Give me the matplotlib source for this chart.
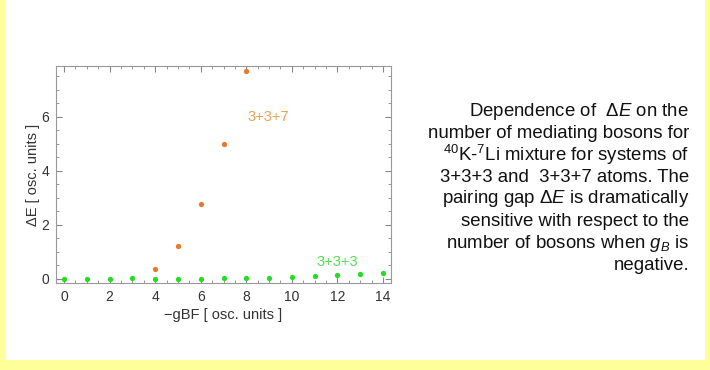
import matplotlib
matplotlib.use("Agg")
import matplotlib.pyplot as plt
from matplotlib.patches import Rectangle
from matplotlib.ticker import MultipleLocator

plt.rcParams['font.family'] = ['Liberation Sans', 'DejaVu Sans']
plt.rcParams['mathtext.fontset'] = 'custom'
plt.rcParams['mathtext.rm'] = 'Liberation Sans'
plt.rcParams['mathtext.it'] = 'Liberation Sans:italic'
plt.rcParams['mathtext.bf'] = 'Liberation Sans:bold'

# Pairing gap vs. boson-fermion coupling
g_333 = list(range(0, 15))
dE_333 = [0.0, 0.0, 0.0, 0.02, 0.0, 0.0, 0.0, 0.01, 0.02, 0.04, 0.07, 0.1, 0.13, 0.16, 0.2]
g_337 = [4, 5, 6, 7, 8]
dE_337 = [0.37, 1.2, 2.77, 4.98, 7.7]

x_ticks = [0, 2, 4, 6, 8, 10, 12, 14]
y_ticks = [0, 2, 4, 6]

caption = [
    "Dependence of  $\\mathit{\u0394E}$ on the",
    "number of mediating bosons for",
    "$^{40}$K-$^{7}$Li mixture for systems of",
    "3+3+3 and  3+3+7 atoms. The",
    "pairing gap $\\mathit{\u0394E}$ is dramatically",
    "sensitive with respect to the",
    "number of bosons when $g_B$ is",
    "negative.",
]

fig = plt.figure(figsize=(7.1, 3.7), dpi=100)
fig.patch.set_facecolor('#FFFF99')
fig.add_artist(Rectangle((5 / 710, 10 / 370), 700 / 710, 360 / 370,
                         transform=fig.transFigure, facecolor='white',
                         edgecolor='none', zorder=0))

ax = fig.add_axes([56 / 710, 87 / 370, 335 / 710, 217 / 370])
ax.set_facecolor('white')
ax.plot(g_333, dE_333, 'o', color='#22DD22', markersize=3.8, markeredgewidth=0)
ax.plot(g_337, dE_337, 'o', color='#E8782A', markersize=3.8, markeredgewidth=0)

ax.set_xlim(-0.35, 14.35)
ax.set_ylim(-0.16, 7.88)
ax.set_xticks(x_ticks)
ax.set_yticks(y_ticks)
ax.xaxis.set_minor_locator(MultipleLocator(0.5))
ax.yaxis.set_minor_locator(MultipleLocator(0.5))
ax.tick_params(which='both', direction='in', top=True, right=True,
               color='#888888', labelsize=10, labelcolor='#333333', pad=5)
ax.tick_params(which='major', length=4)
ax.tick_params(which='minor', length=2)
for s in ax.spines.values():
    s.set_color('#999999')
    s.set_linewidth(0.8)

ax.set_xlabel('\u2212gBF [ osc. units ]', fontsize=10.5, color='#333333', labelpad=3)
ax.set_ylabel('\u0394E [ osc. units ]', fontsize=10.5, color='#333333', labelpad=1)

ax.text(8.07, 6.0, '3+3+7', color='#F0A050', fontsize=10.5, ha='left', va='center')
ax.text(11.1, 0.62, '3+3+3', color='#55E055', fontsize=10.5, ha='left', va='center')

for i, line in enumerate(caption):
    y = 111 + 22 * i
    fig.text(689 / 710, 1 - y / 370, line, ha='right', va='center',
             fontsize=13.4, color='#111111')

fig.savefig('out.png', dpi=100, facecolor=fig.get_facecolor())
